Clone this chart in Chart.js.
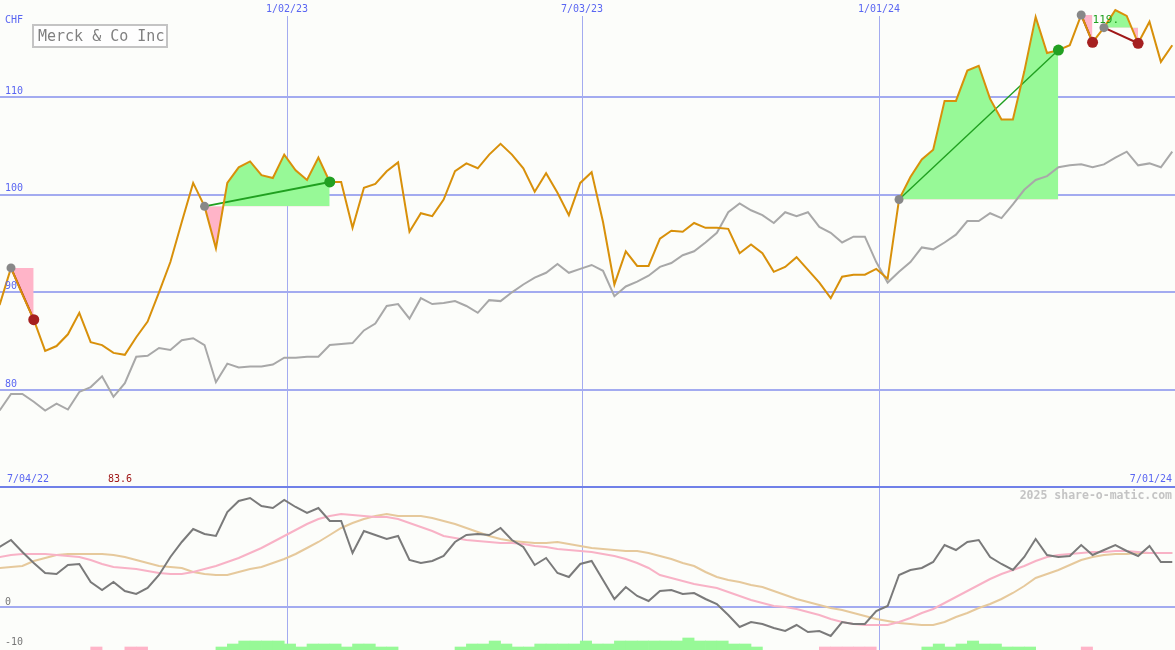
<!DOCTYPE html>
<html>
<head>
<meta charset="utf-8">
<script src="https://cdn.jsdelivr.net/npm/chart.js@4.4.1/dist/chart.umd.min.js"></script>
<style>
  body { margin: 0; background: #fcfdfa; }
  #wrap { position: relative; width: 1175px; height: 650px; overflow: hidden; }
  #top { position: absolute; left: 0; top: 0; }
  #bot { position: absolute; left: 0; top: 486px; }
</style>
</head>
<body>
<div id="wrap">
  <canvas id="top" width="1175" height="486"></canvas>
  <canvas id="bot" width="1175" height="164"></canvas>
</div>
<script>
// weekly closes, first point is week -1
const price = [
  88.7, 92.5, 89.8, 87.2, 84.0, 84.5, 85.7, 87.9, 84.9, 84.6,
  83.8, 83.6, 85.4, 87.0, 90.0, 93.1, 97.2, 101.2, 98.8, 94.5,
  101.2, 102.8, 103.4, 102.0, 101.7, 104.1, 102.5, 101.5, 103.8, 101.3,
  101.3, 96.6, 100.7, 101.1, 102.4, 103.3, 96.2, 98.1, 97.8, 99.5,
  102.4, 103.2, 102.7, 104.1, 105.2, 104.1, 102.7, 100.3, 102.2, 100.2,
  97.9, 101.2, 102.3, 97.2, 90.8, 94.2, 92.7, 92.7, 95.5, 96.3,
  96.2, 97.1, 96.6, 96.6, 96.5, 94.0, 94.9, 94.0, 92.1, 92.6,
  93.6, 92.3, 91.0, 89.4, 91.6, 91.8, 91.8, 92.4, 91.4, 99.5,
  101.8, 103.6, 104.6, 109.6, 109.6, 112.7, 113.2, 109.8, 107.7, 107.7,
  112.6, 118.2, 114.5, 114.8, 115.3, 118.4, 115.6, 117.1, 118.9, 118.3,
  115.5, 117.7, 113.6, 115.3
];
// index line
const bench = [
  77.9, 79.6, 79.6, 78.8, 77.9, 78.6, 78.0, 79.8, 80.3, 81.4,
  79.3, 80.7, 83.4, 83.5, 84.3, 84.1, 85.1, 85.3, 84.6, 80.8,
  82.7, 82.3, 82.4, 82.4, 82.6, 83.3, 83.3, 83.4, 83.4, 84.6,
  84.7, 84.8, 86.1, 86.8, 88.6, 88.8, 87.3, 89.4, 88.8, 88.9,
  89.1, 88.6, 87.9, 89.2, 89.1, 90.0, 90.8, 91.5, 92.0, 92.9,
  92.0, 92.4, 92.8, 92.2, 89.6, 90.6, 91.1, 91.7, 92.6, 93.0,
  93.8, 94.2, 95.1, 96.1, 98.2, 99.1, 98.4, 97.9, 97.1, 98.2,
  97.8, 98.2, 96.7, 96.1, 95.1, 95.7, 95.7, 93.1, 91.0, 92.1,
  93.1, 94.6, 94.4, 95.1, 95.9, 97.3, 97.3, 98.1, 97.6, 99.0,
  100.5, 101.5, 101.9, 102.8, 103.0, 103.1, 102.8, 103.1, 103.8, 104.4,
  103.0, 103.2, 102.8, 104.4
];
const osc = [
  15.0, 16.75, 13.75, 11.0, 8.5, 8.25, 10.5, 10.75, 6.25, 4.25,
  6.25, 4.0, 3.25, 4.75, 8.0, 12.5, 16.25, 19.5, 18.25, 17.75,
  23.75, 26.5, 27.25, 25.25, 24.75, 26.75, 25.0, 23.5, 24.75, 21.5,
  21.5, 13.5, 19.0, 18.0, 17.0, 17.75, 11.75, 11.0, 11.5, 12.75,
  16.25, 18.0, 18.25, 18.0, 19.75, 16.75, 15.0, 10.5, 12.25, 8.5,
  7.5, 10.75, 11.5, 6.75, 2.0, 5.0, 2.75, 1.5, 4.0, 4.25,
  3.25, 3.5, 2.0, 0.75, -2.0, -5.0, -3.75, -4.25, -5.25, -6.0,
  -4.5, -6.25, -6.0, -7.25, -3.75, -4.25, -4.25, -1.0, 0.25, 8.0,
  9.25, 9.75, 11.25, 15.5, 14.25, 16.25, 16.75, 12.5, 10.75, 9.25,
  12.5, 17.0, 13.0, 12.5, 12.75, 15.5, 13.0, 14.25, 15.5, 14.0,
  12.75, 15.25, 11.25, 11.25
];
const oscFast = [
  12.5, 13.0, 13.25, 13.25, 13.25, 13.0, 12.75, 12.5, 11.75, 10.75,
  10.0, 9.75, 9.5, 9.0, 8.5, 8.25, 8.25, 8.75, 9.5, 10.25,
  11.25, 12.25, 13.5, 14.75, 16.25, 17.75, 19.25, 20.75, 22.0, 22.75,
  23.25, 23.0, 22.75, 22.5, 22.5, 22.0, 21.0, 20.0, 19.0, 17.75,
  17.25, 16.75, 16.5, 16.25, 16.0, 16.0, 15.75, 15.25, 15.0, 14.5,
  14.25, 14.0, 13.75, 13.25, 12.75, 12.0, 11.0, 9.75, 8.0, 7.25,
  6.5, 5.75, 5.25, 4.75, 3.75, 2.75, 1.75, 1.0, 0.25, 0.0,
  -0.5, -1.25, -2.0, -3.0, -3.75, -4.25, -4.5, -4.5, -4.5, -3.75,
  -2.75, -1.5, -0.5, 1.0, 2.5, 4.0, 5.5, 7.0, 8.25, 9.25,
  10.25, 11.5, 12.5, 13.0, 13.25, 13.5, 13.75, 13.75, 14.0, 14.0,
  13.75, 13.5, 13.5, 13.5
];
const oscSlow = [
  9.75, 10.0, 10.25, 11.5, 12.25, 13.0, 13.25, 13.25, 13.25, 13.25,
  13.0, 12.5, 11.75, 11.0, 10.25, 10.0, 9.75, 8.75, 8.25, 8.0,
  8.0, 8.75, 9.5, 10.0, 11.0, 12.0, 13.25, 14.75, 16.25, 18.0,
  19.75, 21.0, 22.0, 22.75, 23.25, 22.75, 22.75, 22.75, 22.25, 21.5,
  20.75, 19.75, 18.75, 17.75, 17.0, 16.5, 16.25, 16.0, 16.0, 16.25,
  15.75, 15.25, 14.75, 14.5, 14.25, 14.0, 14.0, 13.5, 12.75, 12.0,
  11.0, 10.25, 8.75, 7.5, 6.75, 6.25, 5.5, 5.0, 4.0, 3.0,
  2.0, 1.25, 0.5, -0.25, -0.75, -1.5, -2.25, -3.0, -3.5, -4.0,
  -4.25, -4.5, -4.5, -3.75, -2.5, -1.5, -0.25, 0.75, 2.0, 3.5,
  5.25, 7.25, 8.25, 9.25, 10.5, 11.75, 12.5, 13.0, 13.25, 13.25,
  13.5, 13.5, 13.5, 13.5
];
// strength blocks between one week and the next (+ green, - pink)
const histo = [
  0, 0, 0, 0, 0, 0, 0, 0, -1, 0,
  0, -1, -1, 0, 0, 0, 0, 0, 0, 1,
  2, 3, 3, 3, 3, 2, 1, 2, 2, 2,
  1, 2, 2, 1, 1, 0, 0, 0, 0, 0,
  1, 2, 2, 3, 2, 1, 1, 2, 2, 2,
  2, 3, 2, 2, 3, 3, 3, 3, 3, 3,
  4, 3, 3, 3, 2, 2, 1, 0, 0, 0,
  0, 0, -1, -1, -1, -1, -1, 0, 0, 0,
  0, 1, 2, 1, 2, 3, 2, 2, 1, 1,
  1, 0, 0, 0, 0, -1, 0, 0, 0, 0,
  0, 0, 0, 0
];
const tradeIn = [0, 17, 78, 94, 96];
const tradeOut = [2, 28, 92, 95, 99];

const priceTicks = [80, 90, 100, 110];
const oscTicks = [30, 0, -10];
const dateLabels = ['1/02/23', '7/03/23', '1/01/24'];
const datePos = [24.24, 50.15, 76.24];
const firstDate = '7/04/22';
const lastDate = '7/01/24';
const company = 'Merck & Co Inc';
const currency = 'CHF';
const lowLabel = '83.6';
const highLabel = '119.';

const FIRST = -1;
const X_MIN = -0.966, X_MAX = 102.24;
const BLUE_GRID = '#a3abf0';
const BLUE_TEXT = '#5a66f2';
const MONO = '"DejaVu Sans Mono", "Liberation Mono", monospace';

function pts(arr) {
  return arr.map((v, i) => ({ x: FIRST + i, y: v }));
}
function at(arr, k) {
  return arr[k - FIRST];
}

//-----------------------------------------------
// trades: fills, links and dots
let links = [];
let fills = [];
let entryDots = [];
let winDots = [];
let lossDots = [];
tradeIn.forEach((s, t) => {
  let e = tradeOut[t];
  let p0 = at(price, s);
  let p1 = at(price, e);
  let win = p1 >= p0;
  fills.push({
    data: pts(price).slice(s - FIRST, e - FIRST + 1),
    fill: { target: { value: p0 }, above: '#97f997', below: '#ffb4c8' },
    borderColor: 'transparent',
    borderWidth: 0,
    pointRadius: 0
  });
  links.push({
    data: [{ x: s, y: p0 }, { x: e, y: p1 }],
    borderColor: win ? '#20a020' : '#a01818',
    borderWidth: t == 2 ? 1.4 : 2,
    pointRadius: 0,
    fill: false
  });
  entryDots.push({ x: s, y: p0 });
  (win ? winDots : lossDots).push({ x: e, y: p1 });
});

function dotSet(data, color, r) {
  return { data: data, showLine: false, pointRadius: r, pointBackgroundColor: color, pointBorderWidth: 0, borderColor: color };
}

const topDecor = {
  id: 'topDecor',
  beforeDatasetsDraw(chart) {
    const { ctx, chartArea: a } = chart;
    const x = chart.scales.x, y = chart.scales.y;
    ctx.save();
    ctx.strokeStyle = BLUE_GRID;
    ctx.lineWidth = 2;
    priceTicks.forEach((v) => {
      let py = Math.round(y.getPixelForValue(v));
      ctx.beginPath(); ctx.moveTo(a.left, py); ctx.lineTo(a.right, py); ctx.stroke();
    });
    ctx.lineWidth = 1;
    datePos.forEach((d) => {
      let px = Math.round(x.getPixelForValue(d)) + 0.5;
      ctx.beginPath(); ctx.moveTo(px, 16); ctx.lineTo(px, a.bottom); ctx.stroke();
    });
    ctx.restore();
  },
  afterDatasetsDraw(chart) {
    const { ctx } = chart;
    const x = chart.scales.x, y = chart.scales.y;
    ctx.save();
    ctx.textBaseline = 'middle';
    ctx.font = '10px ' + MONO;
    ctx.fillStyle = BLUE_TEXT;
    ctx.textAlign = 'left';
    ctx.fillText(currency, 5, 20);
    priceTicks.forEach((v) => ctx.fillText(String(v), 5, y.getPixelForValue(v) - 6));
    ctx.textAlign = 'center';
    dateLabels.forEach((l, i) => ctx.fillText(l, x.getPixelForValue(datePos[i]), 9));
    ctx.textAlign = 'left';
    ctx.fillText(firstDate, 7, 479);
    ctx.textAlign = 'right';
    ctx.fillText(lastDate, 1172, 479);
    ctx.textAlign = 'left';
    ctx.fillStyle = '#a01818';
    ctx.fillText(lowLabel, 108, 479);
    // last high label
    ctx.font = '11px ' + MONO;
    ctx.fillStyle = '#20a020';
    ctx.fillText(highLabel, x.getPixelForValue(95), y.getPixelForValue(117.9));
    // name box
    ctx.fillStyle = '#fefefe';
    ctx.fillRect(33, 25, 134, 22);
    ctx.strokeStyle = '#c4c4c4';
    ctx.lineWidth = 2;
    ctx.strokeRect(33, 25, 134, 22);
    ctx.font = '15px ' + MONO;
    ctx.fillStyle = '#808080';
    ctx.fillText(company, 38, 37);
    ctx.restore();
  }
};

new Chart(document.getElementById('top'), {
  type: 'line',
  data: {
    datasets: [
      dotSet(entryDots, '#888888', 4.5),
      dotSet(winDots, '#22a022', 5.5),
      dotSet(lossDots, '#a52020', 5.5),
      { data: pts(price), borderColor: '#d8900a', borderWidth: 2, pointRadius: 0, fill: false },
      ...links,
      { data: pts(bench), borderColor: '#a8a8a8', borderWidth: 2, pointRadius: 0, fill: false },
      ...fills
    ]
  },
  options: {
    responsive: false,
    animation: false,
    devicePixelRatio: 1,
    layout: { padding: 0, autoPadding: false },
    elements: { line: { tension: 0 } },
    plugins: { legend: { display: false }, tooltip: { enabled: false } },
    scales: {
      x: { type: 'linear', display: false, min: X_MIN, max: X_MAX, offset: false },
      y: { display: false, min: 70.17, max: 119.93 }
    }
  },
  plugins: [topDecor]
});

//-----------------------------------------------
// lower panel
let barData = [];
let barColors = [];
histo.forEach((h, i) => {
  if (!h) return;
  barData.push({ x: FIRST + i + 0.5, y: [-11, -10.75 + 0.75 * Math.abs(h)] });
  barColors.push(h > 0 ? '#97f997' : '#ffb4c8');
});

const botDecor = {
  id: 'botDecor',
  beforeDatasetsDraw(chart) {
    const { ctx, chartArea: a } = chart;
    const x = chart.scales.x, y = chart.scales.y;
    ctx.save();
    ctx.strokeStyle = BLUE_GRID;
    ctx.lineWidth = 1;
    datePos.forEach((d) => {
      let px = Math.round(x.getPixelForValue(d)) + 0.5;
      ctx.beginPath(); ctx.moveTo(px, a.top); ctx.lineTo(px, a.bottom); ctx.stroke();
    });
    ctx.lineWidth = 2;
    let py = Math.round(y.getPixelForValue(0));
    ctx.beginPath(); ctx.moveTo(a.left, py); ctx.lineTo(a.right, py); ctx.stroke();
    ctx.strokeStyle = '#7080e8';
    py = Math.round(y.getPixelForValue(30));
    ctx.beginPath(); ctx.moveTo(a.left, py); ctx.lineTo(a.right, py); ctx.stroke();
    ctx.restore();
  },
  afterDatasetsDraw(chart) {
    const { ctx } = chart;
    const y = chart.scales.y;
    ctx.save();
    ctx.textBaseline = 'middle';
    ctx.font = '10px ' + MONO;
    ctx.fillStyle = '#777777';
    ctx.textAlign = 'left';
    oscTicks.forEach((v) => ctx.fillText(String(v), 5, y.getPixelForValue(v) - 5));
    ctx.font = 'bold 11.5px ' + MONO;
    ctx.fillStyle = '#c4c4c4';
    ctx.textAlign = 'right';
    ctx.fillText('2025 share-o-matic.com', 1172, 10);
    ctx.restore();
  }
};

new Chart(document.getElementById('bot'), {
  type: 'line',
  data: {
    datasets: [
      { data: pts(osc), borderColor: '#7a7a7a', borderWidth: 2, pointRadius: 0, fill: false },
      { data: pts(oscFast), borderColor: '#f8b2c6', borderWidth: 2, pointRadius: 0, fill: false },
      { data: pts(oscSlow), borderColor: '#e6c99c', borderWidth: 2, pointRadius: 0, fill: false },
      { type: 'bar', data: barData, backgroundColor: barColors, borderWidth: 0, barPercentage: 1, categoryPercentage: 1, grouped: false }
    ]
  },
  options: {
    responsive: false,
    animation: false,
    devicePixelRatio: 1,
    layout: { padding: 0, autoPadding: false },
    elements: { line: { tension: 0 } },
    plugins: { legend: { display: false }, tooltip: { enabled: false } },
    scales: {
      x: { type: 'linear', display: false, min: X_MIN, max: X_MAX, offset: false },
      y: { display: false, min: -10.75, max: 30.25 }
    }
  },
  plugins: [botDecor]
});
</script>
</body>
</html>
